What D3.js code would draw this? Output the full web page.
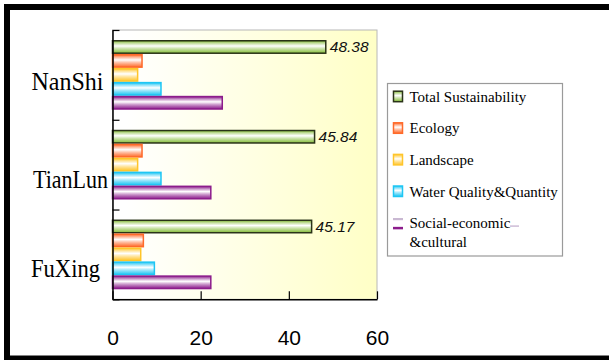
<!DOCTYPE html>
<html>
<head>
<meta charset="utf-8">
<style>
  body { margin: 0; background: #fff; }
  svg { display: block; }
</style>
</head>
<body>
<svg width="609" height="360"></svg>
<script src="https://d3js.org/d3.v7.min.js"></script>
<script>

// data
var sites = ["NanShi", "TianLun", "FuXing"];
var series = ["Total Sustainability", "Ecology", "Landscape", "Water Quality&Quantity", "Social-economic"];
var total    = [48.38, 45.84, 45.17];
var ecology  = [6.7, 6.7, 7.0];
var landscape = [5.7, 5.7, 6.4];
var water    = [11.0, 11.0, 9.5];
var social   = [24.9, 22.3, 22.3];
var xTicks = [0, 20, 40, 60];

var values = [total, ecology, landscape, water, social];
var colors = ["#86bd3a", "#ff6a2a", "#ffc52a", "#1ec6f4", "#8c1c8c"];
var strokes = ["#2a3318", "#ff6a2a", "#ffc52a", "#1ec6f4", "#8c1c8c"];

var serif = "'Liberation Serif', 'Times New Roman', serif";
var sans = "'Liberation Sans', Arial, sans-serif";

var svg = d3.select("svg");
var defs = svg.append("defs");

// outer frame
svg.append("rect")
    .attr("x", 7).attr("y", 7)
    .attr("width", 640).attr("height", 351.5)
    .attr("fill", "none").attr("stroke", "#000").attr("stroke-width", 6);

var plot = {left: 112.5, top: 30, right: 377, bottom: 299.3};

var x = d3.scaleLinear().domain([0, 60]).range([plot.left, plot.right]);
var y = d3.scaleBand().domain(sites).range([plot.top, plot.bottom]);
var yb = d3.scaleBand().domain(d3.range(series.length))
    .range([10, y.bandwidth() - 10]);

// background gradient
var bg = defs.append("linearGradient").attr("id", "bg")
    .attr("x1", 0).attr("x2", 1).attr("y1", 0).attr("y2", 0);
bg.append("stop").attr("offset", "0.05").attr("stop-color", "#ffffff");
bg.append("stop").attr("offset", "1").attr("stop-color", "#ffffc6");

svg.append("rect")
    .attr("x", plot.left).attr("y", plot.top)
    .attr("width", plot.right - plot.left).attr("height", plot.bottom - plot.top)
    .attr("fill", "url(#bg)").attr("stroke", "#b8b8b8").attr("stroke-width", 1);

// bar gradients (tube look)
colors.forEach(function(c, i) {
  var g = defs.append("linearGradient").attr("id", "bar" + i)
      .attr("x1", 0).attr("x2", 0).attr("y1", 0).attr("y2", 1);
  var light = d3.interpolateRgb(c, "#fff");
  g.append("stop").attr("offset", "0").attr("stop-color", c);
  g.append("stop").attr("offset", "0.22").attr("stop-color", light(0.55));
  g.append("stop").attr("offset", "0.42").attr("stop-color", "#fff");
  g.append("stop").attr("offset", "0.62").attr("stop-color", light(0.6));
  g.append("stop").attr("offset", "0.8").attr("stop-color", light(0.3));
  g.append("stop").attr("offset", "1").attr("stop-color", c);
});

var groups = svg.selectAll(".site")
    .data(sites)
  .enter().append("g")
    .attr("class", "site")
    .attr("transform", function(d) { return "translate(0," + y(d) + ")"; });

groups.selectAll("rect")
    .data(function(d, si) { return values.map(function(v, k) { return {k: k, v: v[si]}; }); })
  .enter().append("rect")
    .attr("x", x(0))
    .attr("y", function(d) { return yb(d.k) + 0.75; })
    .attr("width", function(d) { return x(d.v) - x(0); })
    .attr("height", yb.bandwidth() - 1.5)
    .attr("fill", function(d) { return "url(#bar" + d.k + ")"; })
    .attr("stroke", function(d) { return strokes[d.k]; })
    .attr("stroke-width", 1.5);

// value labels on total bars
groups.append("text")
    .attr("x", function(d, si) { return x(total[si]) + 4; })
    .attr("y", yb(0) + yb.bandwidth() / 2 + 5.5)
    .style("font-family", sans)
    .style("font-style", "italic")
    .style("font-size", "15.5px")
    .attr("fill", "#111")
    .text(function(d, si) { return total[si].toFixed(2); });

// site labels
var labelDy = [15, 23, 23];
var labelLen = [72, 75, 69];
svg.selectAll(".lab")
    .data(sites)
  .enter().append("text")
    .attr("class", "lab")
    .attr("x", function(d, i) { return [103.5, 108, 100][i]; })
    .attr("y", function(d, i) { return y(d) + y.bandwidth() / 2 + labelDy[i]; })
    .attr("text-anchor", "end")
    .attr("textLength", function(d, i) { return labelLen[i]; })
    .attr("lengthAdjust", "spacingAndGlyphs")
    .style("font-family", serif)
    .style("font-size", "26px")
    .attr("fill", "#000")
    .text(function(d) { return d; });

// left axis ticks at band edges
var yl = d3.scaleLinear().domain([0, sites.length]).range([plot.top, plot.bottom]);
svg.append("g")
    .attr("transform", "translate(" + plot.left + ",0)")
    .call(d3.axisLeft(yl).ticks(sites.length).tickSizeInner(-7).tickSizeOuter(0).tickFormat(""))
    .call(function(g) {
      g.select(".domain").attr("stroke", "#000").attr("stroke-width", 1.5);
      g.selectAll(".tick line").attr("stroke", "#000").attr("stroke-width", 1.2);
    });

// bottom axis
svg.append("g")
    .attr("transform", "translate(0," + plot.bottom + ")")
    .call(d3.axisBottom(x).tickValues(xTicks).tickSizeInner(-8).tickSizeOuter(0).tickPadding(31))
    .call(function(g) {
      g.select(".domain").attr("stroke", "#000").attr("stroke-width", 1.5);
      g.selectAll(".tick line").attr("stroke", "#000").attr("stroke-width", 1.2);
      g.selectAll(".tick text")
          .attr("fill", "#000")
          .attr("font-family", null)
          .attr("font-size", null)
          .style("font-family", sans)
          .style("font-size", "21px");
    });

// legend
var legend = svg.append("g");
legend.append("rect")
    .attr("x", 387.5).attr("y", 83.5)
    .attr("width", 175).attr("height", 172.5)
    .attr("fill", "#fff").attr("stroke", "#9a9a9a").attr("stroke-width", 1.2);

var items = legend.selectAll(".item")
    .data(series)
  .enter().append("g")
    .attr("class", "item")
    .attr("transform", function(d, i) { return "translate(0," + (101.7 + i * 31.6) + ")"; });

items.filter(function(d, i) { return i < 4; }).append("rect")
    .attr("x", 393.5).attr("y", -10.5)
    .attr("width", 9).attr("height", 10.5)
    .attr("fill", function(d, i) { return "url(#bar" + i + ")"; })
    .attr("stroke", function(d, i) { return strokes[i]; })
    .attr("stroke-width", 1.5);

var last = items.filter(function(d, i) { return i === 4; });
last.append("line").attr("x1", 393).attr("x2", 403).attr("y1", -9).attr("y2", -9)
    .attr("stroke", "#c9b8d2").attr("stroke-width", 2.2);
last.append("line").attr("x1", 393).attr("x2", 403).attr("y1", 0).attr("y2", 0)
    .attr("stroke", "#8c1c8c").attr("stroke-width", 2.5);
last.append("line").attr("x1", 510).attr("x2", 519).attr("y1", -2).attr("y2", -2)
    .attr("stroke", "#cdbcd6").attr("stroke-width", 1.5);

items.append("text")
    .attr("x", 409.5)
    .style("font-family", serif)
    .style("font-size", "15px")
    .attr("fill", "#000")
    .text(function(d) { return d; });

last.append("text")
    .attr("x", 409.5).attr("y", 18.5)
    .style("font-family", serif)
    .style("font-size", "15px")
    .attr("fill", "#000")
    .text("&cultural");

</script>
</body>
</html>
